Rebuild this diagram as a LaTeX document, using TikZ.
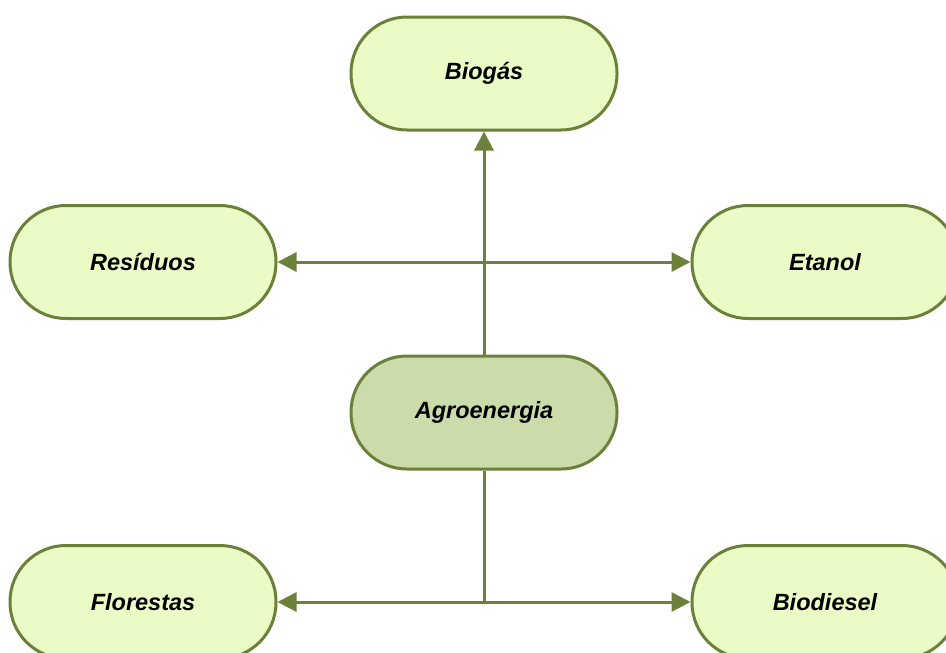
\documentclass[tikz,border=0pt]{standalone}
\usepackage{fontspec}
\setmainfont{Liberation Sans}
\usetikzlibrary{arrows.meta}
\definecolor{boxfill}{HTML}{EAFBC6}
\definecolor{hubfill}{HTML}{CCDBAA}
\definecolor{edgecol}{HTML}{6B813A}
\begin{document}
\begin{tikzpicture}[x=1pt,y=-1pt,
  pill/.style={draw=edgecol, line width=3pt, fill=boxfill, rectangle,
    minimum width=266pt, minimum height=113pt, rounded corners=56pt,
    inner sep=0pt, font=\fontsize{23.5}{28}\selectfont\bfseries\itshape},
  hub/.style={pill, fill=hubfill},
  conn/.style={draw=edgecol, line width=3pt},
  tip/.style={-{Triangle[length=19pt,width=19pt]}}]
\useasboundingbox (0,0) rectangle (946,653);
\begin{scope}
\clip (0,0) rectangle (946,653);
\node[pill] (bg) at (484,73.5) {Biogás};
\node[pill] (re) at (143,262) {Resíduos};
\node[pill] (et) at (825,262) {Etanol};
\node[hub] (ag) at (484,412.5) {Agroenergia};
\node[pill] (fl) at (143,602) {Florestas};
\node[pill] (bd) at (825,602) {Biodiesel};
\coordinate (j1) at (ag.north |- re.east);
\coordinate (j2) at (ag.south |- fl.east);
\draw[conn,tip] (ag.north) -- (bg.south);
\draw[conn,tip] (j1) -- (re.east);
\draw[conn,tip] (j1) -- (et.west);
\draw[conn] (ag.south) -- (j2);
\draw[conn,tip] (j2) -- (fl.east);
\draw[conn,tip] (j2) -- (bd.west);
\end{scope}
\end{tikzpicture}
\end{document}
